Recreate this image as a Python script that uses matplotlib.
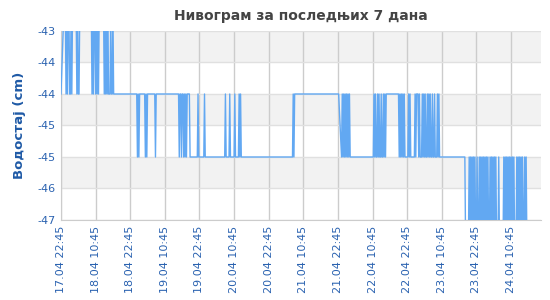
import matplotlib
matplotlib.use("Agg")
import matplotlib.pyplot as plt
import numpy as np

# подаци: један знак = једно мерење на 15 мин, сваки ред = 12 сати
# T > -43 (изнад графика), M = -44.2, L = -45.4, D < -46.6 (испод), '.' = нема мерења
nivoi = {'T': -42.6, 'M': -44.2, 'L': -45.4, 'D': -47.0}
merenja = [
    "M...TTTMTMTTMMTMTTTTTTMTMMTTTTTTTTTTTTTTTTTMTMTT",
    "MTMTMTTTTTTTMTMTMTMMMTMMTMMMMMMMMMMMMMMMMMMMMMMM",
    "MMMMMMMMMMLMLMMMMMMMMLMLMMMMMMMMMMMLMMMMMMMMMMMM",
    "MMMMMMMMMMMMMMMMMMMMLMMLMMLMLMLMMMMLLLLLLLLLLLML",
    "LLLLLLLMLLLLLLLLLLLLLLLLLLLLLLLLLLLLMLLLLLMLLLLL",
    "LMLLLLLMLMLLLLLLLLLLLLLLLLLLLLLLLLLLLLLLLLLLLLLL",
    "LLLLLLLLLLLLLLLLLLLLLLLLLLLLLLLLLLMLMMMMMMMMMMMM",
    "MMMMMMMMMMMMMMMMMMMMMMMMMMMMMMMMMMMMMMMMMMMMMMMM",
    "MM...LMLMLMLMLMLMLLLLLLLLLLLLLLLLLLLLLLLLLLLLLLL",
    "LLMLMLLMLMLLMLLMLMLMMMMMMMMMMMMMMMMMMLMLMLMLMLLL",
    "LLMLMLLLLLLMLMMMLMLLLMLMLMLLMLMLMLLMLLMLLLMLMLLL",
    "LLLLLLLLLLLLLLLLLLLLLLLLLLLLLLLLLDDDDDLDLDLDLDLD",
    "DLDDLDLDLDLDLDLDLDDLDLDLDLDLDDDLDDDDDDLDLDLDLDLD",
    "LDLDLDDDLDLDLDLDLDDLDLD",
]
x_oznake = ["17.04 22:45", "18.04 10:45", "18.04 22:45", "19.04 10:45",
            "19.04 22:45", "20.04 10:45", "20.04 22:45", "21.04 10:45",
            "21.04 22:45", "22.04 10:45", "22.04 22:45", "23.04 10:45",
            "23.04 22:45", "24.04 10:45"]
y_vrednosti = [-43.0, -43.6, -44.2, -44.8, -45.4, -46.0, -46.6]

sati, nivo = [], []
for k, red in enumerate(merenja):
    for i, c in enumerate(red):
        if c == '.':
            continue
        sati.append(12 * k + 0.25 * i)
        nivo.append(nivoi[c])

plt.rcParams['axes.unicode_minus'] = False
plt.rcParams['font.family'] = ['DejaVu Sans']

fig = plt.figure(figsize=(5.5, 3.0), dpi=100)
ax = fig.add_axes([61 / 550, 80 / 300, 480 / 550, 189 / 300])

# наизменичне траке
for j in range(len(y_vrednosti) - 1):
    if j % 2 == 0:
        ax.axhspan(y_vrednosti[j + 1], y_vrednosti[j], color='#f2f2f2', lw=0, zorder=0)

ax.plot(sati, nivo, color='#62a8f2', lw=1.0, zorder=3)

ax.set_xlim(0, 166.4)
ax.set_ylim(y_vrednosti[-1], y_vrednosti[0])
ax.set_yticks(y_vrednosti)
ax.set_yticklabels(['%.0f' % v for v in y_vrednosti])
ax.set_xticks(np.arange(len(x_oznake)) * 12)
ax.set_xticklabels(x_oznake, rotation=90)

ax.grid(axis='y', color='#e0e0e0', lw=1)
ax.grid(axis='x', color='#cccccc', lw=1)
ax.set_axisbelow(True)
for s in ['top', 'right']:
    ax.spines[s].set_visible(False)
for s in ['left', 'bottom']:
    ax.spines[s].set_color('#cccccc')
ax.tick_params(length=0, labelsize=8, labelcolor='#2a62b0', pad=4)

ax.set_title("Нивограм за последњих 7 дана", fontsize=10, fontweight='bold',
             color='#444444', pad=8)
ax.set_ylabel("Водостај (cm)", fontsize=9.5, fontweight='bold', color='#1f5aa6',
              labelpad=8)

fig.savefig("out.png", dpi=100)
